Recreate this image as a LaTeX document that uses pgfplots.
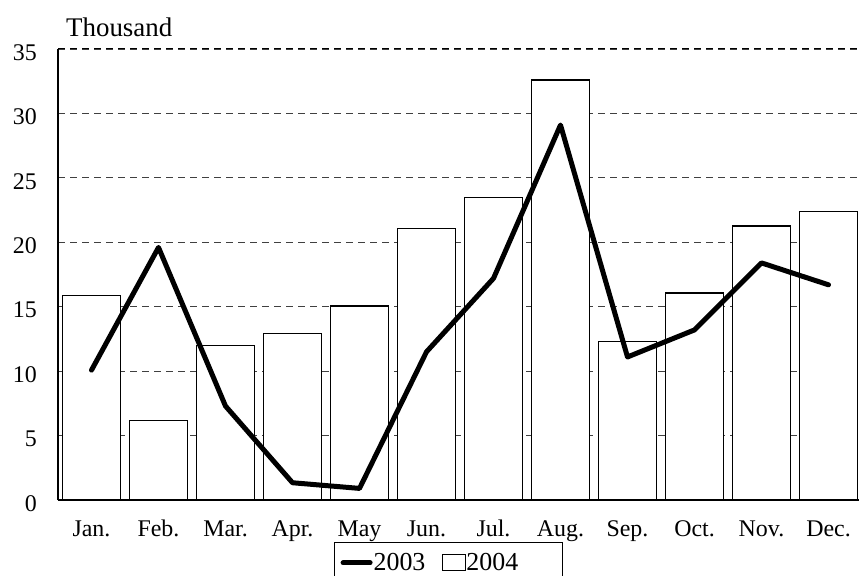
\documentclass[border=0pt]{standalone}
\usepackage{fontspec}
\setmainfont{Liberation Serif}
\usepackage{pgfplots}
\pgfplotsset{compat=1.18}
\begin{document}
\begin{tikzpicture}
\begin{axis}[
  scale only axis, width=804bp, height=451bp,
  xmin=-0.5, xmax=11.5, ymin=0, ymax=35,
  axis x line*=bottom, axis y line*=left,
  axis line style={-, black, line width=1.2bp},
  xtick={0,...,11},
  xticklabels={Jan.,Feb.,Mar.,Apr.,May,Jun.,Jul.,Aug.,Sep.,Oct.,Nov.,Dec.},
  ytick={0,5,...,35},
  major tick length=0pt,
  /pgf/number format/assume math mode=true,
  xticklabel style={inner sep=0pt, anchor=north, text height=16bp, text depth=5bp, yshift=-20bp, font=\fontsize{24}{28}\selectfont},
  yticklabel style={inner sep=0pt, anchor=east, xshift=-21bp, yshift=-3.5bp, font=\fontsize{24}{28}\selectfont},
  ymajorgrids,
  grid style={black!75, line width=0.9bp, dash pattern=on 7bp off 5bp},
  reverse legend,
  legend columns=2,
  legend style={at={(rel axis cs:0.4857,-0.0931)}, anchor=north, draw=black, line width=0.9bp,
    inner xsep=6bp, inner ysep=11bp, font=\fontsize{26}{30}\selectfont,
    nodes={inner sep=0pt},
    /tikz/every even column/.append style={column sep=17bp}},
]
\addplot[ybar, bar width=0.855, fill=white, draw=black, line width=1.2bp,
  legend image code/.code={\draw[line width=1bp, fill=white] (0bp,-8bp) rectangle (23bp,8bp);}]
  coordinates {(0,15.84) (1,6.15) (2,11.96) (3,12.92) (4,15.06) (5,21.1) (6,23.5) (7,32.6) (8,12.3) (9,16.07) (10,21.27) (11,22.4)};
\addlegendentry{\makebox[90bp][l]{2004}}
\addplot[black, line width=5bp, line join=round, line cap=round,
  legend image code/.code={\draw[line width=5bp] (0bp,0bp) -- (27bp,0bp);}]
  coordinates {(0,10.08) (1,19.6) (2,7.29) (3,1.34) (4,0.9) (5,11.5) (6,17.2) (7,29.1) (8,11.1) (9,13.2) (10,18.4) (11,16.7)};
\addlegendentry{\hspace{1bp}2003}
\draw[black, line width=1bp, dash pattern=on 7bp off 5bp] (axis cs:-0.5,35) -- (axis cs:11.5,35);
\coordinate (O) at (rel axis cs:0,0);
\coordinate (T) at (rel axis cs:1,1);
\coordinate (TL) at (rel axis cs:0,1);
\end{axis}
\node[anchor=base west, inner sep=0pt, font=\fontsize{27}{31}\selectfont] at ([xshift=8bp,yshift=12bp]TL) {Thousand};
\pgfresetboundingbox
\path[use as bounding box] ([xshift=-58bp,yshift=-76bp]O) rectangle ([xshift=-3bp,yshift=49bp]T);
\end{tikzpicture}
\end{document}
